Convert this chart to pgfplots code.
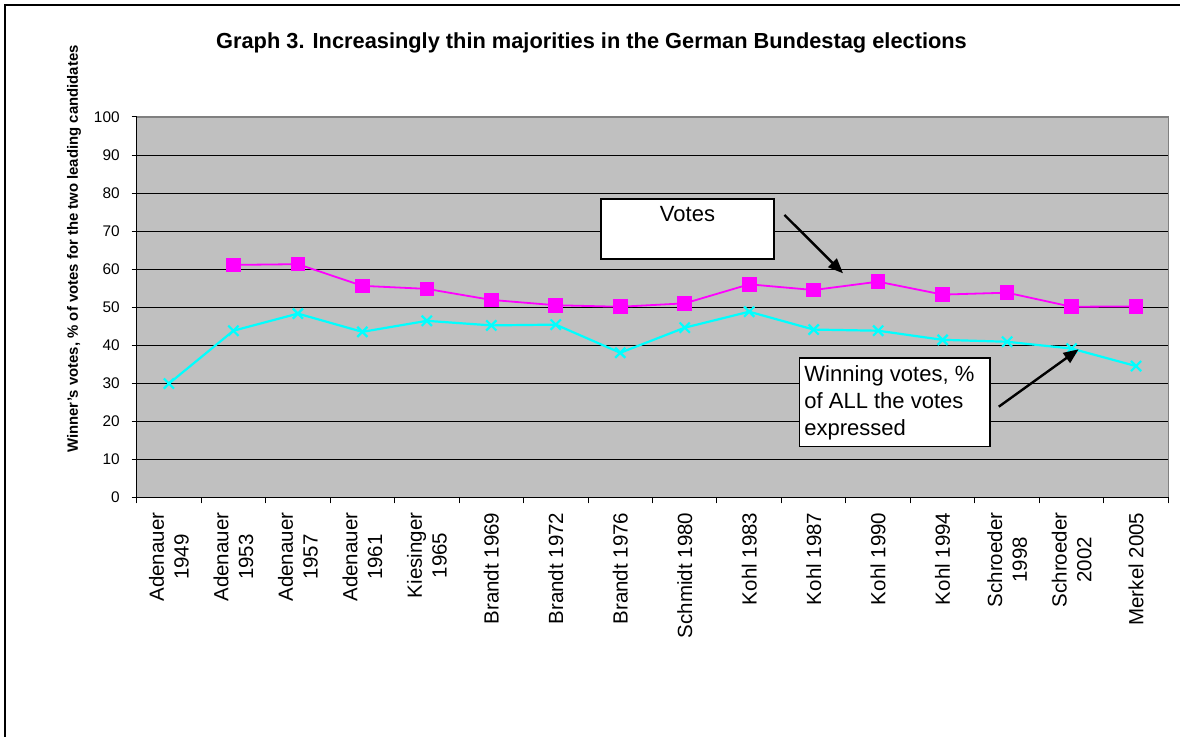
\documentclass[border=0pt]{standalone}
\usepackage{fontspec}
\setmainfont{Liberation Sans}
\usepackage{pgfplots}
\pgfplotsset{compat=1.18}
\usetikzlibrary{arrows.meta}

\definecolor{plotgray}{HTML}{C0C0C0}
\definecolor{framegray}{HTML}{808080}
\definecolor{votemag}{HTML}{FF00FF}
\definecolor{wincyan}{HTML}{00FFFF}

\begin{document}
\begin{tikzpicture}
\path[use as bounding box] (0,0) rectangle (590pt,368.5pt);
% chart frame
\draw[black, line width=0.8pt] (2.5pt,0pt) -- (2.5pt,366pt) -- (590pt,366pt);
% title and y label
\node[anchor=base, font=\bfseries\fontsize{10.9}{13}\selectfont] at (295.75pt,344pt)
  {Graph 3. Increasingly thin majorities in the German Bundestag elections};
\node[rotate=90, font=\bfseries\fontsize{7.45}{9}\selectfont] at (37pt,244pt)
  {Winner's votes, \% of votes for the two leading candidates};
\begin{axis}[
  at={(68.35pt,119.85pt)}, anchor=south west,
  scale only axis, width=515.8pt, height=190.15pt,
  xmin=-0.5, xmax=15.5, ymin=0, ymax=100,
  ytick={0,10,...,100},
  xtick={0,...,15},
  xticklabels={{Adenauer\\1949},{Adenauer\\1953},{Adenauer\\1957},{Adenauer\\1961},
    {Kiesinger\\1965},{Brandt 1969},{Brandt 1972},{Brandt 1976},{Schmidt 1980},
    {Kohl 1983},{Kohl 1987},{Kohl 1990},{Kohl 1994},{Schroeder\\1998},
    {Schroeder\\2002},{Merkel 2005}},
  minor xtick={-0.5,0.5,...,15.5},
  tick align=outside,
  major tick length=2.5pt, minor tick length=3pt,
  major x tick style={draw=none},
  tick style={black, line width=0.5pt},
  ymajorgrids, major grid style={black, line width=0.5pt},
  axis background/.style={fill=plotgray},
  axis x line*=bottom, axis y line*=left,
  axis line style={black, line width=0.6pt},
  /pgf/number format/assume math mode=true,
  yticklabel style={font=\fontsize{7.7}{9}\selectfont, xshift=-2.5pt},
  xticklabel style={rotate=90, anchor=east, align=center, inner sep=0pt,
    xshift=-5pt, font=\fontsize{10.25}{12.4}\selectfont},
  clip=false,
]
% plot-area border on the top and right
\draw[framegray, line width=0.6pt] (rel axis cs:0,1) -- (rel axis cs:1,1) -- (rel axis cs:1,0);
% share of the two leading candidates' votes
\addplot[votemag, line width=0.9pt, mark=square*, mark size=3.2pt,
  mark options={fill=votemag, draw=votemag}]
  coordinates {(1,61.1) (2,61.3) (3,55.6) (4,54.8) (5,51.9) (6,50.5) (7,50.1)
    (8,51.0) (9,56.0) (10,54.5) (11,56.7) (12,53.3) (13,53.8) (14,50.1) (15,50.2)};
% share of all votes cast
\addplot[wincyan, line width=1.1pt, mark=x, mark size=3.6pt,
  mark options={line width=1.1pt}]
  coordinates {(0,29.9) (1,43.8) (2,48.3) (3,43.5) (4,46.4) (5,45.2) (6,45.4) (7,38.0)
    (8,44.6) (9,48.8) (10,44.1) (11,43.8) (12,41.4) (13,40.9) (14,39.1) (15,34.5)};
\end{axis}
% callouts
\draw[black, line width=0.8pt, fill=white] (300.5pt,268.85pt) rectangle (387pt,238.85pt);
\node[anchor=base, font=\fontsize{11}{13}\selectfont, inner sep=0pt] at (343.75pt,257.65pt) {Votes};
\draw[black, line width=1.2pt, -{Triangle[length=7.5pt,width=6pt]}] (392.25pt,261pt) -- (421.5pt,231.85pt);
\draw[black, line width=0.8pt, fill=white] (399.65pt,189.35pt) rectangle (494.9pt,145.15pt);
\begin{scope}[every node/.style={anchor=base west, font=\fontsize{11}{13}\selectfont, inner sep=0pt}]
\node at (402pt,177.65pt) {Winning votes, \%};
\node at (402pt,164.32pt) {of ALL the votes};
\node at (402pt,150.99pt) {expressed};
\end{scope}
\draw[black, line width=1.2pt, -{Triangle[length=7.5pt,width=6pt]}] (499.4pt,165.15pt) -- (539.3pt,193.85pt);
\end{tikzpicture}
\end{document}
